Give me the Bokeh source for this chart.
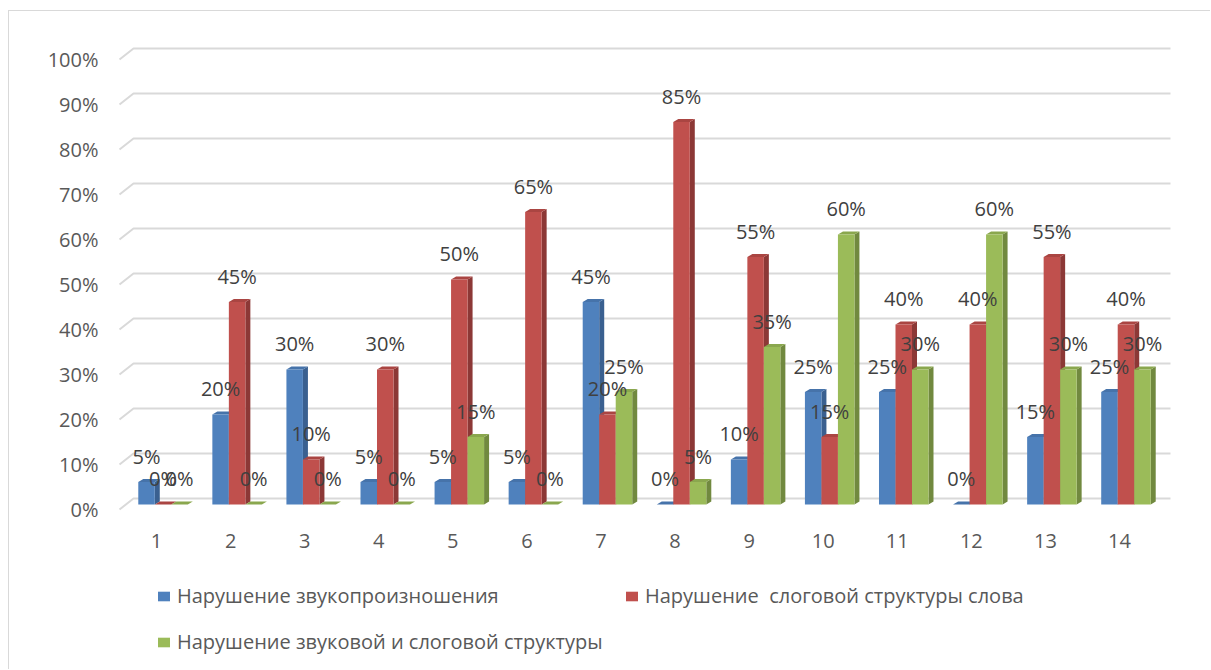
from bokeh.plotting import figure
from bokeh.models import (Range1d, LinearAxis, FixedTicker, PrintfTickFormatter,
                          Legend, LegendItem, ColumnDataSource)
from bokeh.core.properties import value
from bokeh.embed import file_html
from bokeh.resources import INLINE

# ---- data -----------------------------------------------------------------
categories = [1, 2, 3, 4, 5, 6, 7, 8, 9, 10, 11, 12, 13, 14]
sound = [5, 20, 30, 5, 5, 5, 45, 0, 10, 25, 25, 0, 15, 25]
syllable = [0, 45, 10, 30, 50, 65, 20, 85, 55, 15, 40, 40, 55, 40]
combined = [0, 0, 0, 0, 15, 0, 25, 5, 35, 60, 30, 60, 30, 30]
series_names = [
    "Нарушение звукопроизношения",
    "Нарушение  слоговой структуры слова",
    "Нарушение звуковой и слоговой структуры",
]
y_ticks = [0, 10, 20, 30, 40, 50, 60, 70, 80, 90, 100]

# ---- geometry of the pseudo-3D box (pixels inside the figure) ---------------
OX, OY = 9, 11                    # chart-area border offset on the page
W, H = 1211 - OX, 670 - OY
FRAME_L, FRAME_R, FRAME_T, FRAME_B = 112 - OX, W, 0, H
BACK_X0, BACK_X1 = 133 - OX, 1170 - OX   # back wall horizontal extent
BACK_Y0 = 498 - OY                        # back wall zero line
CAT_LABEL_Y = 540 - OY                    # centre line of category labels
PX_PER_PCT = 4.5

n = len(categories)
px_cat = (BACK_X1 - BACK_X0) / n
x_start = 0.5 - (BACK_X0 - FRAME_L) / px_cat
x_end = n + 0.5 + (FRAME_R - BACK_X1) / px_cat
y_end = (BACK_Y0 - FRAME_T) / PX_PER_PCT
y_start = -(FRAME_B - BACK_Y0) / PX_PER_PCT


def dx(px):
    return px / px_cat


def dy(px):
    # screen pixels (downwards positive) -> data units
    return -px / PX_PER_PCT


front_dx, front_dy = dx(-14), dy(11)     # front edge of the floor
face_dx, face_dy = dx(-7.5), dy(6)       # front face of the columns
depth_dx, depth_dy = dx(5), dy(-3)       # column depth
bar_w = 0.2228
label_gap = dy(-26)

FONT = value("Open Sans")
TEXT_GREY = "#595959"

p = figure(width=W, height=H, output_backend="svg", toolbar_location=None,
           x_range=Range1d(x_start, x_end), y_range=Range1d(y_start, y_end),
           x_axis_type=None, y_axis_type=None,
           min_border_left=FRAME_L, min_border_right=0,
           min_border_top=FRAME_T, min_border_bottom=0)
p.outline_line_color = None
p.background_fill_color = "white"
p.border_fill_color = "white"
p.styles = {"margin-left": "8px", "margin-top": "10px",
            "border-left": "1px solid #d9d9d9", "border-top": "1px solid #d9d9d9"}

# front-plane coordinates for the axis and category labels
p.extra_x_ranges = {"front": Range1d(x_start - front_dx, x_end - front_dx)}
p.extra_y_ranges = {"front": Range1d(y_start - front_dy, y_end - front_dy)}

# ---- gridlines on the back wall with the diagonal floor stub ---------------
grid_xs = [[0.5 + front_dx, 0.5, n + 0.5] for _ in y_ticks]
grid_ys = [[t + front_dy, t, t] for t in y_ticks]
p.multi_line(grid_xs, grid_ys, line_color="#d9d9d9", line_width=2)

# ---- columns ---------------------------------------------------------------
palettes = [
    ("#4F81BD", "#3A6090", "#4673AA"),
    ("#C0504D", "#8C3836", "#AA4542"),
    ("#9BBB59", "#71893F", "#8AA74E"),
]
all_values = [sound, syllable, combined]
front_renderers = []
label_x, label_y, label_t = [], [], []

for s, (vals, (c_front, c_side, c_top)) in enumerate(zip(all_values, palettes)):
    left = [c - 1.5 * bar_w + s * bar_w + face_dx for c in categories]
    right = [l + bar_w for l in left]
    bottom = [face_dy for _ in categories]
    top = [v + face_dy for v in vals]

    side_xs = [[r, r, r + depth_dx, r + depth_dx] for r in right]
    side_ys = [[b, t, t + depth_dy, b + depth_dy] for b, t in zip(bottom, top)]
    cap_xs = [[l, r, r + depth_dx, l + depth_dx] for l, r in zip(left, right)]
    cap_ys = [[t, t, t + depth_dy, t + depth_dy] for t in top]

    p.patches(side_xs, side_ys, fill_color=c_side, line_color=None)
    p.patches(cap_xs, cap_ys, fill_color=c_top, line_color=None)
    src = ColumnDataSource(dict(left=left, right=right, top=top, bottom=bottom))
    r = p.quad(left="left", right="right", top="top", bottom="bottom",
               source=src, fill_color=c_front, line_color=None)
    front_renderers.append(r)

    for l, rr, t, v in zip(left, right, top, vals):
        label_x.append((l + rr) / 2)
        label_y.append(t + label_gap)
        label_t.append(f"{v}%")

p.text(x=label_x, y=label_y, text=label_t, text_font=FONT,
       text_font_size="20px", text_color="#404040",
       text_align="center", text_baseline="middle")

# ---- category labels along the front edge of the floor ---------------------
cat_y = (BACK_Y0 - CAT_LABEL_Y) / PX_PER_PCT
p.text(x=categories, y=[cat_y] * n, text=[str(c) for c in categories],
       x_range_name="front", text_font=FONT, text_font_size="20px",
       text_color=TEXT_GREY, text_align="center", text_baseline="middle")

# ---- value axis ------------------------------------------------------------
yaxis = LinearAxis(y_range_name="front", ticker=FixedTicker(ticks=y_ticks),
                   formatter=PrintfTickFormatter(format="%d%%"))
yaxis.axis_line_color = None
yaxis.major_tick_line_color = None
yaxis.minor_tick_line_color = None
yaxis.major_tick_in = 0
yaxis.major_tick_out = 0
yaxis.minor_tick_in = 0
yaxis.minor_tick_out = 0
yaxis.major_label_standoff = 14
yaxis.major_label_text_font = "Open Sans"
yaxis.major_label_text_font_size = "20px"
yaxis.major_label_text_color = TEXT_GREY
p.add_layout(yaxis, "left")

# ---- legend ----------------------------------------------------------------
def make_legend(items, loc, spacing):
    return Legend(items=items, location=loc, orientation="vertical",
                  label_text_font="Open Sans", label_text_font_size="20px",
                  label_text_color=TEXT_GREY, glyph_width=15, glyph_height=12,
                  label_standoff=6, spacing=spacing, padding=0, margin=0,
                  border_line_color=None, background_fill_alpha=0)


legend_a = make_legend([LegendItem(label=series_names[0], renderers=[front_renderers[0]]),
                        LegendItem(label=series_names[2], renderers=[front_renderers[2]])],
                       (156 - 112, 15), 19)
legend_b = make_legend([LegendItem(label=series_names[1], renderers=[front_renderers[1]])],
                       (624 - 112, 61), 0)
p.add_layout(legend_a, "center")
p.add_layout(legend_b, "center")

open("out.html", "w").write(file_html(p, INLINE))
